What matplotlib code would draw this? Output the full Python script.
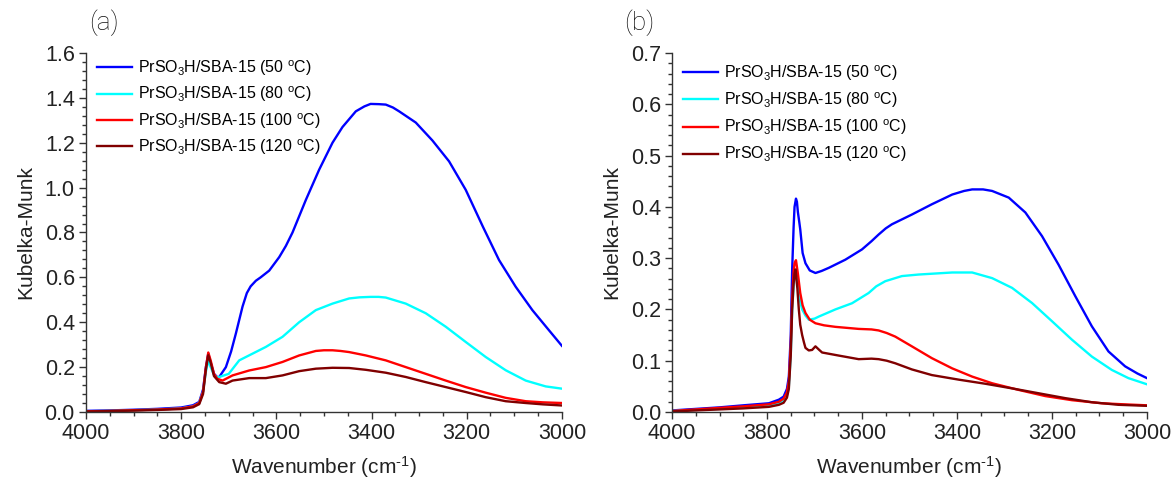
import matplotlib
matplotlib.use("Agg")
import matplotlib.pyplot as plt
from matplotlib.ticker import MultipleLocator

plt.rcParams['font.family'] = ['Liberation Sans', 'DejaVu Sans']
plt.rcParams['mathtext.fontset'] = 'custom'
plt.rcParams['mathtext.rm'] = 'Liberation Sans'
plt.rcParams['mathtext.it'] = 'Liberation Sans'

labels = [r'PrSO$_3$H/SBA-15 (50 $^{\mathrm{o}}$C)',
          r'PrSO$_3$H/SBA-15 (80 $^{\mathrm{o}}$C)',
          r'PrSO$_3$H/SBA-15 (100 $^{\mathrm{o}}$C)',
          r'PrSO$_3$H/SBA-15 (120 $^{\mathrm{o}}$C)']
colors = ['#0000FF', '#00FFFF', '#FF0000', '#800000']

# ---------- panel (a) ----------
a_blue_x = [4000, 3950, 3900, 3850, 3800, 3775, 3762, 3754, 3748, 3743, 3738, 3731, 3724, 3720, 3706, 3695, 3685, 3671,
            3662, 3654, 3643, 3633, 3615, 3594, 3580, 3566, 3538, 3510, 3482, 3461, 3433, 3415, 3402, 3385, 3370, 3355, 3342,
            3307, 3272, 3237, 3202, 3166, 3132, 3097, 3062, 3027, 3000]
a_blue_y = [0.005, 0.007, 0.010, 0.014, 0.020, 0.030, 0.045, 0.10, 0.20, 0.26, 0.22, 0.17, 0.155, 0.156, 0.20, 0.27, 0.35, 0.47,
            0.53, 0.56, 0.585, 0.60, 0.63, 0.69, 0.74, 0.80, 0.945, 1.08, 1.20, 1.27, 1.34, 1.362, 1.373, 1.372, 1.37, 1.357, 1.34,
            1.29, 1.21, 1.117, 0.99, 0.826, 0.677, 0.558, 0.454, 0.364, 0.295]

a_cyan_x = [4000, 3950, 3900, 3850, 3800, 3775, 3762, 3754, 3748, 3743, 3738, 3731, 3724, 3720, 3700, 3678, 3650,
            3622, 3587, 3552, 3517, 3482, 3447, 3425, 3402, 3385, 3370, 3328, 3286, 3244, 3202, 3160, 3118, 3076, 3034, 3000]
a_cyan_y = [0.003, 0.005, 0.008, 0.011, 0.016, 0.025, 0.040, 0.09, 0.18, 0.23, 0.20, 0.165, 0.155, 0.156, 0.17, 0.23, 0.26,
            0.29, 0.335, 0.40, 0.454, 0.483, 0.506, 0.511, 0.513, 0.513, 0.51, 0.483, 0.44, 0.38, 0.312, 0.245, 0.186, 0.14, 0.114, 0.104]

a_red_x = [4000, 3950, 3900, 3850, 3800, 3775, 3762, 3754, 3748, 3743, 3738, 3731, 3724, 3713, 3692, 3657, 3622,
           3587, 3552, 3517, 3500, 3482, 3465, 3447, 3412, 3370, 3328, 3286, 3244, 3202, 3160, 3118, 3076, 3040, 3000]
a_red_y = [0.003, 0.005, 0.008, 0.011, 0.016, 0.025, 0.040, 0.09, 0.20, 0.265, 0.23, 0.17, 0.148, 0.14, 0.163, 0.185, 0.20,
           0.223, 0.252, 0.272, 0.275, 0.275, 0.272, 0.267, 0.252, 0.23, 0.20, 0.17, 0.14, 0.111, 0.086, 0.063, 0.048, 0.043, 0.040]

a_wine_x = [4000, 3950, 3900, 3850, 3800, 3775, 3762, 3754, 3748, 3743, 3738, 3731, 3720, 3706, 3692, 3657, 3622,
            3587, 3552, 3517, 3482, 3447, 3412, 3370, 3328, 3286, 3244, 3202, 3160, 3118, 3076, 3040, 3000]
a_wine_y = [0.002, 0.004, 0.006, 0.009, 0.013, 0.021, 0.035, 0.08, 0.19, 0.253, 0.22, 0.16, 0.133, 0.126, 0.14, 0.151, 0.151,
            0.163, 0.182, 0.193, 0.197, 0.196, 0.188, 0.175, 0.156, 0.133, 0.111, 0.089, 0.066, 0.048, 0.040, 0.034, 0.029]

# ---------- panel (b) ----------
b_blue_x = [4000, 3950, 3900, 3850, 3796, 3775, 3765, 3758, 3754, 3750, 3747, 3744, 3742, 3739, 3737, 3735, 3732, 3730,
            3725, 3719, 3710, 3698, 3685, 3670, 3635, 3600, 3580, 3565, 3550, 3537, 3495, 3453, 3410, 3385, 3368, 3345,
            3326, 3291, 3256, 3221, 3186, 3151, 3116, 3081, 3046, 3020, 3000]
b_blue_y = [0.003, 0.006, 0.009, 0.013, 0.017, 0.024, 0.030, 0.045, 0.069, 0.15, 0.278, 0.36, 0.40, 0.416, 0.41, 0.39, 0.37, 0.356,
            0.31, 0.29, 0.276, 0.271, 0.275, 0.281, 0.297, 0.317, 0.333, 0.346, 0.358, 0.366, 0.385, 0.405, 0.424, 0.431, 0.434, 0.434,
            0.431, 0.418, 0.389, 0.343, 0.287, 0.226, 0.167, 0.118, 0.089, 0.075, 0.066]

b_cyan_x = [4000, 3950, 3900, 3850, 3796, 3775, 3765, 3758, 3754, 3750, 3747, 3744, 3742, 3739, 3735, 3730, 3726, 3719,
            3712, 3700, 3691, 3656, 3621, 3586, 3570, 3551, 3516, 3481, 3410, 3368, 3326, 3284, 3242, 3200, 3158, 3116,
            3074, 3039, 3000]
b_cyan_y = [0.002, 0.004, 0.006, 0.009, 0.012, 0.017, 0.022, 0.032, 0.05, 0.11, 0.20, 0.245, 0.26, 0.27, 0.25, 0.215, 0.20, 0.188,
            0.18, 0.182, 0.186, 0.20, 0.212, 0.232, 0.245, 0.255, 0.265, 0.268, 0.272, 0.272, 0.261, 0.242, 0.2125, 0.177, 0.141, 0.108,
            0.082, 0.066, 0.054]

b_red_x = [4000, 3950, 3900, 3850, 3796, 3775, 3765, 3758, 3754, 3750, 3747, 3744, 3742, 3739, 3735, 3730, 3725, 3719,
           3710, 3698, 3680, 3656, 3607, 3580, 3565, 3548, 3530, 3495, 3453, 3410, 3368, 3326, 3270, 3214, 3158, 3095, 3050, 3000]
b_red_y = [0.002, 0.005, 0.008, 0.011, 0.015, 0.020, 0.026, 0.038, 0.06, 0.13, 0.22, 0.275, 0.29, 0.296, 0.27, 0.232, 0.208, 0.193,
           0.18, 0.173, 0.169, 0.166, 0.162, 0.161, 0.159, 0.154, 0.147, 0.128, 0.105, 0.085, 0.069, 0.056, 0.043, 0.031, 0.023, 0.017,
           0.015, 0.013]

b_wine_x = [4000, 3950, 3900, 3850, 3796, 3775, 3765, 3758, 3754, 3750, 3747, 3744, 3742, 3740, 3736, 3733, 3730, 3726, 3722,
            3719, 3712, 3705, 3698, 3690, 3684, 3649, 3607, 3580, 3565, 3548, 3530, 3495, 3453, 3396, 3340, 3284, 3228, 3172,
            3116, 3060, 3000]
b_wine_y = [0.001, 0.003, 0.005, 0.007, 0.010, 0.014, 0.018, 0.028, 0.045, 0.11, 0.20, 0.25, 0.27, 0.278, 0.24, 0.20, 0.17, 0.15, 0.135,
            0.125, 0.12, 0.121, 0.128, 0.121, 0.116, 0.11, 0.103, 0.104, 0.103, 0.1, 0.095, 0.083, 0.072, 0.063, 0.055, 0.046, 0.0365, 0.027,
            0.019, 0.014, 0.012]

panels = [
    dict(xs=[a_blue_x, a_cyan_x, a_red_x, a_wine_x], ys=[a_blue_y, a_cyan_y, a_red_y, a_wine_y],
         ymax=1.6, major=0.2, minor=0.04, label='(a)'),
    dict(xs=[b_blue_x, b_cyan_x, b_red_x, b_wine_x], ys=[b_blue_y, b_cyan_y, b_red_y, b_wine_y],
         ymax=0.7, major=0.1, minor=0.02, label='(b)'),
]

fig = plt.figure(figsize=(11.73, 4.8), dpi=100)
rects = [[0.0733, 0.1417, 0.4057, 0.7479], [0.5729, 0.1417, 0.4049, 0.7479]]
label_pos = [(0.076, 0.953), (0.532, 0.953)]
leg_anchor = [(0.0, 1.016), (0.0, 1.003)]
leg_spacing = [0.42, 0.48]

for p, r, lp, la, ls in zip(panels, rects, label_pos, leg_anchor, leg_spacing):
    ax = fig.add_axes(r)
    for x, y, c, l in zip(p['xs'], p['ys'], colors, labels):
        ax.plot(x, y, color=c, lw=1.7, label=l)
    ax.set_xlim(4000, 3000)
    ax.set_ylim(0, p['ymax'])
    ax.xaxis.set_major_locator(MultipleLocator(200))
    ax.xaxis.set_minor_locator(MultipleLocator(50))
    ax.yaxis.set_major_locator(MultipleLocator(p['major']))
    ax.yaxis.set_minor_locator(MultipleLocator(p['minor']))
    ax.yaxis.set_major_formatter(matplotlib.ticker.FormatStrFormatter('%.1f'))
    for s in ['top', 'right']:
        ax.spines[s].set_visible(False)
    for s in ['left', 'bottom']:
        ax.spines[s].set_linewidth(1.0)
        ax.spines[s].set_color('#333333')
    ax.tick_params(which='major', direction='out', length=5, width=1, labelsize=15.5, colors='#333333',
                   labelcolor='#222222', pad=3)
    ax.tick_params(which='minor', direction='out', length=3, width=1, colors='#333333')
    ax.set_xlabel(r'Wavenumber (cm$^{\text{-1}}$)', fontsize=15, color='#222222', labelpad=7)
    ax.set_ylabel('Kubelka-Munk', fontsize=15, color='#222222', labelpad=7)
    ax.legend(loc='upper left', bbox_to_anchor=la, frameon=False, fontsize=11.5,
              handlelength=2.2, handletextpad=0.35, labelspacing=ls, borderaxespad=0.3)
    fig.text(lp[0], lp[1], p['label'], fontsize=19, family='Roboto', fontweight='light',
             ha='left', va='center', color='#111111')

fig.savefig('out.png', dpi=100)
